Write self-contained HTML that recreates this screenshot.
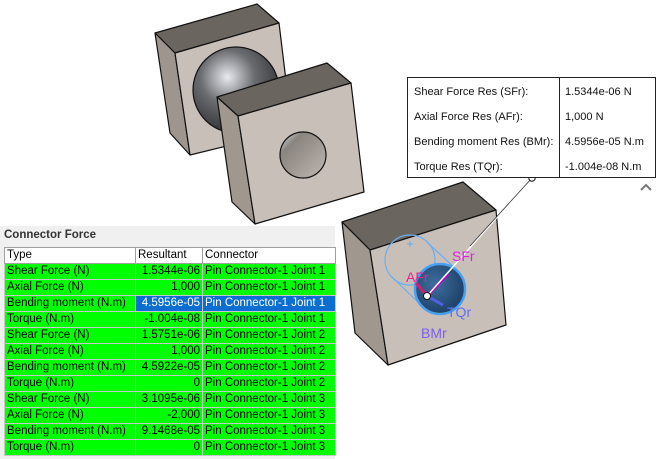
<!DOCTYPE html>
<html><head><meta charset="utf-8"><style>
body{margin:0;width:661px;height:459px;background:#fff;position:relative;overflow:hidden;font-family:"Liberation Sans","DejaVu Sans",sans-serif}
#panel{position:absolute;left:0;top:226px;width:335px;height:233px;background:#f0f0f0}
#title{position:absolute;left:4px;top:229px;font-size:11.5px;font-weight:bold;color:#333}
table{position:absolute;left:4px;top:247px;border-collapse:collapse;font-size:11.5px;color:#000;background:#fff;table-layout:fixed;width:331px}
td{border:1px solid #c8c8c8;height:15px;padding:0 2px;line-height:15px;white-space:nowrap;overflow:hidden;background:#00ff00}
tr.h td{background:#fff;border-color:#a0a0a0}
td.r{text-align:right}
td.sel{background:#0a6fd0;color:#fff}
#box{position:absolute;left:407px;top:77px;width:247px;height:99px;border:1px solid #222;background:#fff;font-size:11px;color:#111}
#box div{position:absolute}
</style></head><body>
<svg width="661" height="459" style="position:absolute;left:0;top:0">
<defs>
<radialGradient id="sph" cx="0.4" cy="0.35" r="0.7"><stop offset="0" stop-color="#e8eaf0"/><stop offset="0.45" stop-color="#6a6c70"/><stop offset="1" stop-color="#2a2b2e"/></radialGradient>
<linearGradient id="hole" x1="0" y1="0" x2="1" y2="1"><stop offset="0" stop-color="#e8eaf0"/><stop offset="0.25" stop-color="#8a847e"/><stop offset="1" stop-color="#c0b8b2"/></linearGradient>
<radialGradient id="bl" cx="0.4" cy="0.4" r="0.7"><stop offset="0" stop-color="#3d6fa0"/><stop offset="1" stop-color="#1a3a60"/></radialGradient>
<clipPath id="bf"><polygon points="175,53 279,23 292,130 190,155"/></clipPath>
</defs>
<g stroke="#111" stroke-width="1.2" stroke-linejoin="round">
<polygon points="155,33 257,4 279,23 175,53" fill="#6a655f"/>
<polygon points="155,33 175,53 190,155 170,133" fill="#9e958f"/>
<polygon points="175,53 279,23 292,130 190,155" fill="#c9bfb9"/>
<circle cx="236" cy="90" r="43" fill="url(#sph)" clip-path="url(#bf)"/>
<polygon points="217,97 327,63 351,83 238,116" fill="#6a655f"/>
<polygon points="217,97 238,116 255,224 232,202" fill="#a0978f"/>
<polygon points="238,116 351,83 364,192 255,224" fill="#c9bfb9"/>
<circle cx="303" cy="155" r="23" fill="url(#hole)"/>
<polygon points="342,222 463,182 496,210 370,250" fill="#6a655f"/>
<polygon points="342,222 370,250 388,365 355,333" fill="#a0978f"/>
<polygon points="370,250 496,210 506,325 388,365" fill="#c9bfb9"/>
</g>
<g fill="none" stroke="#6aaef0" stroke-width="1.2">
<circle cx="410" cy="260" r="25"/>
<line x1="393" y1="278" x2="422" y2="306"/>
<line x1="428" y1="243" x2="457" y2="270"/>
</g>
<circle cx="440" cy="289" r="25" fill="url(#bl)" stroke="#4aa0f0" stroke-width="2.5"/>
<text x="410" y="248" font-size="12" fill="#5aaaf0" text-anchor="middle" font-family="Liberation Sans">+</text>
<line x1="427" y1="296" x2="448" y2="274" stroke="#c000c0" stroke-width="3"/>
<line x1="427" y1="296" x2="416" y2="283" stroke="#d0206a" stroke-width="3"/>
<line x1="427" y1="296" x2="443" y2="305" stroke="#5060e0" stroke-width="3"/>
<line x1="427" y1="296" x2="532" y2="178" stroke="#fff" stroke-width="1.5"/>
<line x1="470" y1="246" x2="532" y2="178" stroke="#333" stroke-width="0.8"/>
<circle cx="427" cy="296" r="3.5" fill="#fff" stroke="#111"/>
<circle cx="532" cy="178" r="3.2" fill="#fff" stroke="#111"/>
<g font-family="Liberation Sans" font-size="14">
<text x="452" y="261" fill="#e020e0">SFr</text>
<text x="406" y="282" fill="#f0208a">AFr</text>
<text x="447" y="317" fill="#6070f0">TQr</text>
<text x="421" y="338" fill="#7a60f0">BMr</text>
</g>
<polyline points="641,190 646,185 651,190" fill="none" stroke="#777" stroke-width="2"/>
</svg>
<div id="box">
<div style="left:151px;top:0;width:1px;height:99px;background:#222"></div>
<div style="left:6px;top:8px">Shear Force Res (SFr):</div><div style="left:157px;top:8px">1.5344e-06 N</div>
<div style="left:6px;top:33px">Axial Force Res (AFr):</div><div style="left:157px;top:33px">1,000 N</div>
<div style="left:6px;top:58px">Bending moment Res (BMr):</div><div style="left:157px;top:58px">4.5956e-05 N.m</div>
<div style="left:6px;top:83px">Torque Res (TQr):</div><div style="left:157px;top:83px">-1.004e-08 N.m</div>
</div>
<div id="panel"></div>
<div id="title">Connector Force</div>
<table>
<colgroup><col style="width:131px"><col style="width:67px"><col style="width:133px"></colgroup>
<tr class="h"><td>Type</td><td>Resultant</td><td>Connector</td></tr>
<tr><td>Shear Force (N)</td><td class="r">1.5344e-06</td><td>Pin Connector-1 Joint 1</td></tr>
<tr><td>Axial Force (N)</td><td class="r">1,000</td><td>Pin Connector-1 Joint 1</td></tr>
<tr><td>Bending moment (N.m)</td><td class="r sel">4.5956e-05</td><td class="sel">Pin Connector-1 Joint 1</td></tr>
<tr><td>Torque (N.m)</td><td class="r">-1.004e-08</td><td>Pin Connector-1 Joint 1</td></tr>
<tr><td>Shear Force (N)</td><td class="r">1.5751e-06</td><td>Pin Connector-1 Joint 2</td></tr>
<tr><td>Axial Force (N)</td><td class="r">1,000</td><td>Pin Connector-1 Joint 2</td></tr>
<tr><td>Bending moment (N.m)</td><td class="r">4.5922e-05</td><td>Pin Connector-1 Joint 2</td></tr>
<tr><td>Torque (N.m)</td><td class="r">0</td><td>Pin Connector-1 Joint 2</td></tr>
<tr><td>Shear Force (N)</td><td class="r">3.1095e-06</td><td>Pin Connector-1 Joint 3</td></tr>
<tr><td>Axial Force (N)</td><td class="r">-2,000</td><td>Pin Connector-1 Joint 3</td></tr>
<tr><td>Bending moment (N.m)</td><td class="r">9.1468e-05</td><td>Pin Connector-1 Joint 3</td></tr>
<tr><td>Torque (N.m)</td><td class="r">0</td><td>Pin Connector-1 Joint 3</td></tr>
</table>
</body></html>
